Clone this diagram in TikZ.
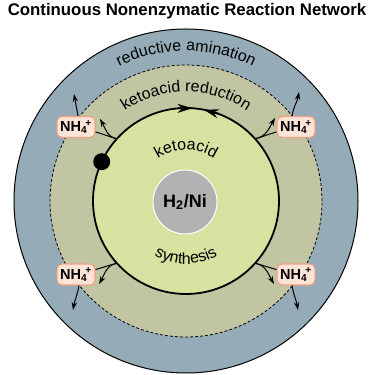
\documentclass[tikz,border=0pt]{standalone}
\usepackage{fontspec}
\setmainfont{Liberation Sans}
\usetikzlibrary{arrows.meta,decorations.text}
\definecolor{outerc}{RGB}{149,172,184}
\definecolor{midc}{RGB}{194,197,162}
\definecolor{innerc}{RGB}{213,226,160}
\definecolor{corec}{RGB}{178,178,178}
\definecolor{boxfill}{RGB}{253,228,214}
\definecolor{boxdraw}{RGB}{240,160,130}
\begin{document}
\begin{tikzpicture}[x=1pt,y=1pt,
  nhbox/.style={draw=boxdraw, fill=boxfill, line width=1.1pt, rounded corners=5pt,
    minimum width=38pt, minimum height=21pt, inner sep=0pt,
    font=\fontsize{14.5}{14.5}\selectfont\bfseries},
  arr/.style={-{Stealth[length=8pt,width=5.5pt]}, line width=1pt},
  conn/.style={line width=1pt},
  ringarr/.style={-{Stealth[length=15pt,width=9pt]}, line width=1.8pt},
  curvetext/.style={decorate, decoration={text along path, text align=center,
    text={|\fontsize{16}{16}\selectfont|#1}}}
]
\useasboundingbox (0,0) rectangle (375,375);
\coordinate (C) at (186,174);
\node[font=\fontsize{16.8}{17}\selectfont\bfseries] (title) at (187,364)
  {Continuous Nonenzymatic Reaction Network};
\draw[line width=1pt, fill=outerc] (C) circle (172);
\draw[line width=0.8pt, dash pattern=on 3pt off 2pt, fill=midc] (C) circle (136);
\draw[line width=1.8pt, fill=innerc] (C) circle (93);
\node[circle, fill=corec, draw=white, line width=1pt, minimum size=64pt, inner sep=0pt,
  font=\fontsize{18}{18}\selectfont\bfseries] (core) at (185,173) {H\textsubscript{2}/Ni};

% curved labels
\path[curvetext={reductive amination}] ([shift={(165:150)}]C) arc[start angle=165, end angle=15, radius=150];
\path[curvetext={ketoacid reduction}] ([shift={(165:109)}]C) arc[start angle=165, end angle=15, radius=109];
\path[curvetext={ketoacid}] ([shift={(160:51)}]C) arc[start angle=160, end angle=20, radius=51];
\path[curvetext={synthesis}] ([shift={(-165:63)}]C) arc[start angle=-165, end angle=-15, radius=63];

% ring arrowheads
\coordinate (a1s) at ([shift={(95:93)}]C);
\coordinate (a1e) at ([shift={(86:93)}]C);
\coordinate (a2s) at ([shift={(70:93)}]C);
\coordinate (a2e) at ([shift={(79:93)}]C);
\draw[ringarr] (a1s) -- (a1e);
\draw[ringarr] (a2s) -- (a2e);

\node[circle, fill=black, minimum size=17pt, inner sep=0pt] (dot) at ([shift={(155:93)}]C) {};

% NH4+ boxes
\node[nhbox] (b1) at (76,248) {NH\textsubscript{4}\kern-0.12em\textsuperscript{+}};
\node[nhbox] (b2) at (296,248) {NH\textsubscript{4}\kern-0.12em\textsuperscript{+}};
\node[nhbox] (b3) at (76,100.5) {NH\textsubscript{4}\kern-0.12em\textsuperscript{+}};
\node[nhbox] (b4) at (296,100.5) {NH\textsubscript{4}\kern-0.12em\textsuperscript{+}};

\coordinate (J1) at ([shift={(138:93)}]C);
\coordinate (J2) at ([shift={(42:93)}]C);
\coordinate (J3) at ([shift={(222:93)}]C);
\coordinate (J4) at ([shift={(318:93)}]C);
\coordinate (t1) at (100,256);
\coordinate (t2) at (275,257);
\coordinate (t3) at (99,91);
\coordinate (t4) at (274,91);
\coordinate (u1) at (74,281);
\coordinate (u2) at (299,283);
\coordinate (u3) at (73,65);
\coordinate (u4) at (298,65);

% TL
\draw[conn] (J1) to[out=165,in=-15] ([yshift=-5pt]b1.east);
\draw[arr] (J1) to[out=170,in=-60] (t1);
\draw[arr] ([xshift=2pt]b1.north) to[out=100,in=-80] (u1);
% TR
\draw[conn] (J2) to[out=15,in=195] ([yshift=-5pt]b2.west);
\draw[arr] (J2) to[out=10,in=-120] (t2);
\draw[arr] ([xshift=-4pt]b2.north) to[out=80,in=-100] (u2);
% BL
\draw[conn] (J3) to[out=195,in=15] ([yshift=5pt]b3.east);
\draw[arr] (J3) to[out=190,in=60] (t3);
\draw[arr] ([xshift=3pt]b3.south) to[out=-100,in=80] (u3);
% BR
\draw[conn] (J4) to[out=-15,in=165] ([yshift=5pt]b4.west);
\draw[arr] (J4) to[out=-10,in=120] (t4);
\draw[arr] ([xshift=-4pt]b4.south) to[out=-80,in=100] (u4);
\end{tikzpicture}
\end{document}
